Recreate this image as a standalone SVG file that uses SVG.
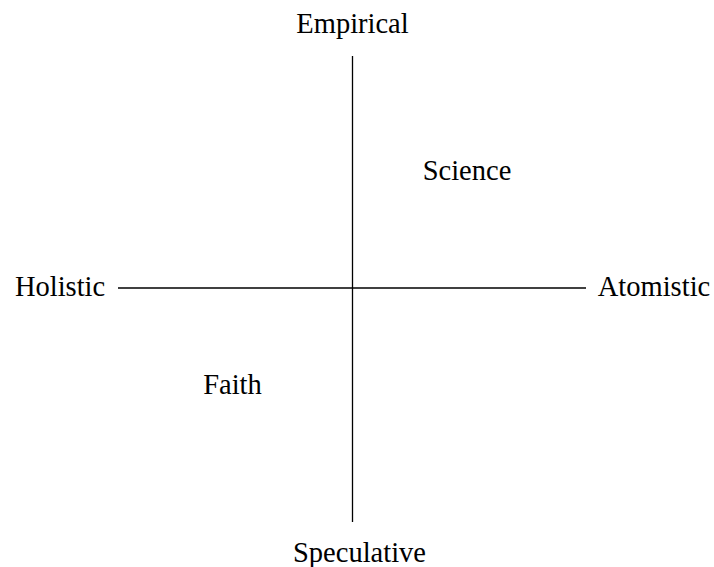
<svg xmlns="http://www.w3.org/2000/svg" width="714" height="567" viewBox="0 0 714 567">
<style>
text{font-family:"Liberation Serif","Times New Roman",serif;font-size:28.5px;fill:#000;text-anchor:middle}
.ax{stroke:#000;stroke-width:1.3;fill:none}
</style>
<rect width="714" height="567" fill="#fff"/>
<g id="connectors">
<line class="ax" x1="352.5" y1="56" x2="352.5" y2="522"/>
<line class="ax" x1="118" y1="288" x2="586" y2="288"/>
</g>
<g id="empirical"><text x="352.5" y="33">Empirical</text></g>
<g id="speculative"><text x="293" y="562" style="text-anchor:start">Speculative</text></g>
<g id="holistic"><text x="60" y="296">Holistic</text></g>
<g id="atomistic"><text x="654" y="296">Atomistic</text></g>
<g id="science"><text x="467" y="179.5">Science</text></g>
<g id="faith"><text x="232.5" y="394">Faith</text></g>
</svg>
